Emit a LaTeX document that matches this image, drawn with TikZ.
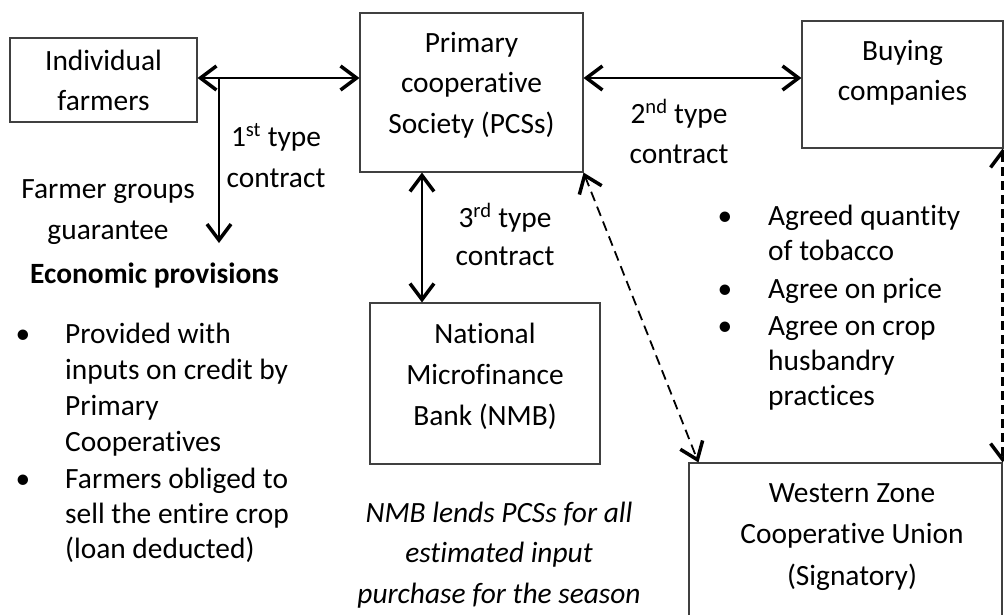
\documentclass[tikz,border=0pt]{standalone}
\usepackage{fontspec}
\setmainfont{Carlito}[Ligatures={NoCommon}]
\usetikzlibrary{arrows.meta}
\newcommand\mlc[2]{\fontsize{29.4}{#1}\selectfont\begin{tabular}[t]{@{}c@{}}#2\end{tabular}}
\newcommand\mll[2]{\fontsize{29.4}{#1}\selectfont\begin{tabular}[t]{@{}l@{}}#2\end{tabular}}
\tikzset{barb/.tip={Straight Barb[length=16pt,width=24pt,line width=3.5pt]}}
\begin{document}
\begin{tikzpicture}[x=1pt,y=-1pt,
  box/.style={draw=black!75,line width=1.1pt,inner sep=0pt,rectangle},
  txt/.style={inner sep=0pt,anchor=base},
  ltxt/.style={inner sep=0pt,anchor=base west},
  dbl/.style={line width=2pt,barb-barb},
  sgl/.style={line width=2pt,-barb},
  dsh/.style={line width=1.8pt,dash pattern=on 10pt off 6pt,barb-barb},
  dshb/.style={line width=3pt,dash pattern=on 9pt off 5pt,barb-barb}]
\clip (0,0) rectangle (1004,614);
% boxes
\node[box,minimum width=187pt,minimum height=84pt] (farm) at (103.5,80) {};
\node[box,minimum width=223pt,minimum height=159pt] (pcs) at (471.5,92.5) {};
\node[box,minimum width=201pt,minimum height=127pt] (buy) at (902.5,84.5) {};
\node[box,minimum width=230pt,minimum height=161pt] (nmb) at (485,383.5) {};
\node[box,minimum width=313pt,minimum height=167pt] (wz) at (845.5,546.5) {};
% box texts
\node[txt] (tfarm) at (103.5,70) {\mlc{40}{Individual\\farmers}};
\node[txt] (tpcs) at (471.5,52) {\mlc{40.5}{Primary\\cooperative\\Society (PCSs)}};
\node[txt] (tbuy) at (902.5,60) {\mlc{40}{Buying\\companies}};
\node[txt] (tnmb) at (485,343) {\mlc{41}{National\\Microfinance\\Bank (NMB)}};
\node[txt] (twz) at (852,502) {\mlc{41.5}{Western Zone\\Cooperative Union\\(Signatory)}};
% contract labels
\node[txt] (t1) at (276,146) {\mlc{41}{1\textsuperscript{st} type\\contract}};
\node[txt] (t2) at (679,123) {\mlc{40}{2\textsuperscript{nd} type\\contract}};
\node[txt] (t3) at (505,227) {\mlc{38}{3\textsuperscript{rd} type\\contract}};
\node[txt] (tfg) at (108,198) {\mlc{41}{Farmer groups\\guarantee}};
\node[ltxt] (tep) at (30,283) {\bfseries\mll{36}{Economic provisions}};
% left list
\node[txt] (bl1) at (23,343) {\mlc{36}{•}};
\node[ltxt] (tl1) at (65,343) {\mll{36}{Provided with\\inputs on credit by\\Primary\\Cooperatives}};
\node[txt] (bl2) at (23,488) {\mlc{36}{•}};
\node[ltxt] (tl2) at (65,488) {\mll{35}{Farmers obliged to\\sell the entire crop\\(loan deducted)}};
% right list
\node[txt] (br1) at (725,225) {\mlc{36}{•}};
\node[ltxt] (tr1) at (768,225) {\mll{35}{Agreed quantity\\of tobacco}};
\node[txt] (br2) at (725,298) {\mlc{36}{•}};
\node[ltxt] (tr2) at (768,298) {\mll{35}{Agree on price}};
\node[txt] (br3) at (725,335) {\mlc{36}{•}};
\node[ltxt] (tr3) at (768,335) {\mll{35}{Agree on crop\\husbandry\\practices}};
% italic note
\node[txt] (ti) at (499,522) {\itshape\mlc{40.5}{NMB lends PCSs for all\\estimated input\\purchase for the season}};
% connectors
\coordinate (h1) at (0,78);
\coordinate (j) at (219,78);
\coordinate (jend) at (219,243);
\coordinate (v4) at (422,0);
\draw[dbl] (farm.east |- h1) -- (pcs.west |- h1);
\draw[sgl] (j) -- (jend);
\draw[dbl] (pcs.east |- h1) -- (buy.west |- h1);
\draw[dbl] (pcs.south -| v4) -- (nmb.north -| v4);
\draw[dsh] (pcs.south east) -- ([xshift=10pt]wz.north west);
\draw[dshb] ([xshift=-1pt]buy.south east) -- ([xshift=-1pt]buy.south east |- wz.north);
\end{tikzpicture}
\end{document}
